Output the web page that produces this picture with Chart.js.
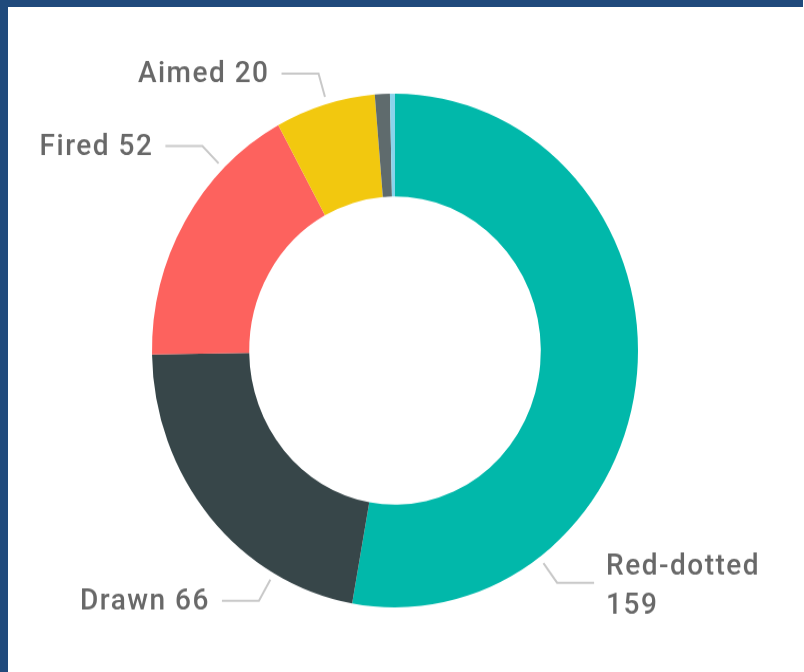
<!DOCTYPE html>
<html>
<head>
<meta charset="utf-8">
<script src="https://cdn.jsdelivr.net/npm/chart.js@4.4.0/dist/chart.umd.min.js"></script>
<style>
  html, body { margin: 0; padding: 0; background: #fff; overflow: hidden; }
  body { width: 804px; height: 672px; position: relative; }
  .frameTop { position: absolute; left: 0; top: 0; width: 803px; height: 7px; background: #204a7c; }
  .frameLeft { position: absolute; left: 0; top: 0; width: 8px; height: 672px; background: #204a7c; }
  #wrap { position: absolute; left: 8px; top: 7px; width: 796px; height: 629px;
          transform: scaleY(1.057); transform-origin: top left; }
</style>
</head>
<body>
<div class="frameTop"></div>
<div class="frameLeft"></div>
<div id="wrap"><canvas id="myChart" width="796" height="629"></canvas></div>

<script>
// data
var categories = ["Red-dotted", "Drawn", "Fired", "Aimed", "Other", "Unknown"];
var counts = [159, 66, 52, 20, 3, 1];
var sliceColors = ["#01B8AA", "#374649", "#FD625E", "#F2C80F", "#5F6B6D", "#8AD4EB"];

// leader lines + labels, Power BI style
var leaderLabels = {
  id: "leaderLabels",
  afterDraw: function (chart, args, opts) {
    var ctx = chart.ctx;
    var meta = chart.getDatasetMeta(0);
    ctx.save();
    ctx.font = opts.font;
    ctx.letterSpacing = opts.spacing;
    ctx.textBaseline = "middle";
    meta.data.forEach(function (arc, i) {
      if (i >= opts.anchors.length) return;
      var p = arc.getProps(["x", "y", "startAngle", "endAngle", "outerRadius"], true);
      var a = p.startAngle + (p.endAngle - p.startAngle) * opts.anchors[i];
      var r0 = p.outerRadius + 7, r1 = p.outerRadius + 30;
      var sx = p.x + r0 * Math.cos(a), sy = p.y + r0 * Math.sin(a);
      var ex = p.x + r1 * Math.cos(a), ey = p.y + r1 * Math.sin(a);
      var dir = Math.cos(a) >= 0 ? 1 : -1;
      var hx = ex + dir * 37;

      ctx.strokeStyle = "#c8c8c8";
      ctx.lineWidth = 2;
      ctx.beginPath();
      ctx.moveTo(sx, sy);
      ctx.lineTo(ex, ey);
      ctx.lineTo(hx, ey);
      ctx.stroke();

      ctx.fillStyle = "#686868";
      var txt = categories[i] + " " + counts[i];
      var tx = hx + dir * 12;
      if (dir > 0) {
        ctx.textAlign = "left";
        if (tx + ctx.measureText(txt).width > chart.width - 4) {
          ctx.fillText(categories[i], tx, ey - 15);
          ctx.fillText(String(counts[i]), tx, ey + 22);
        } else {
          ctx.fillText(txt, tx, ey + 1);
        }
      } else {
        ctx.textAlign = "right";
        ctx.fillText(txt, tx, ey + 1);
      }
    });
    ctx.restore();
  }
};

new Chart("myChart", {
  type: "doughnut",
  data: {
    labels: categories,
    datasets: [{
      data: counts,
      backgroundColor: sliceColors,
      borderWidth: 0
    }]
  },
  options: {
    responsive: false,
    animation: false,
    cutout: "60%",
    layout: { padding: { left: 144, right: 166, top: 82, bottom: 61 } },
    plugins: {
      legend: { display: false },
      tooltip: { enabled: false },
      leaderLabels: {
        anchors: [0.755, 0.25, 0.74, 0.52],
        font: "500 28px Roboto, 'DejaVu Sans', sans-serif",
        spacing: "1.5px"
      }
    }
  },
  plugins: [leaderLabels]
});
</script>
</body>
</html>
